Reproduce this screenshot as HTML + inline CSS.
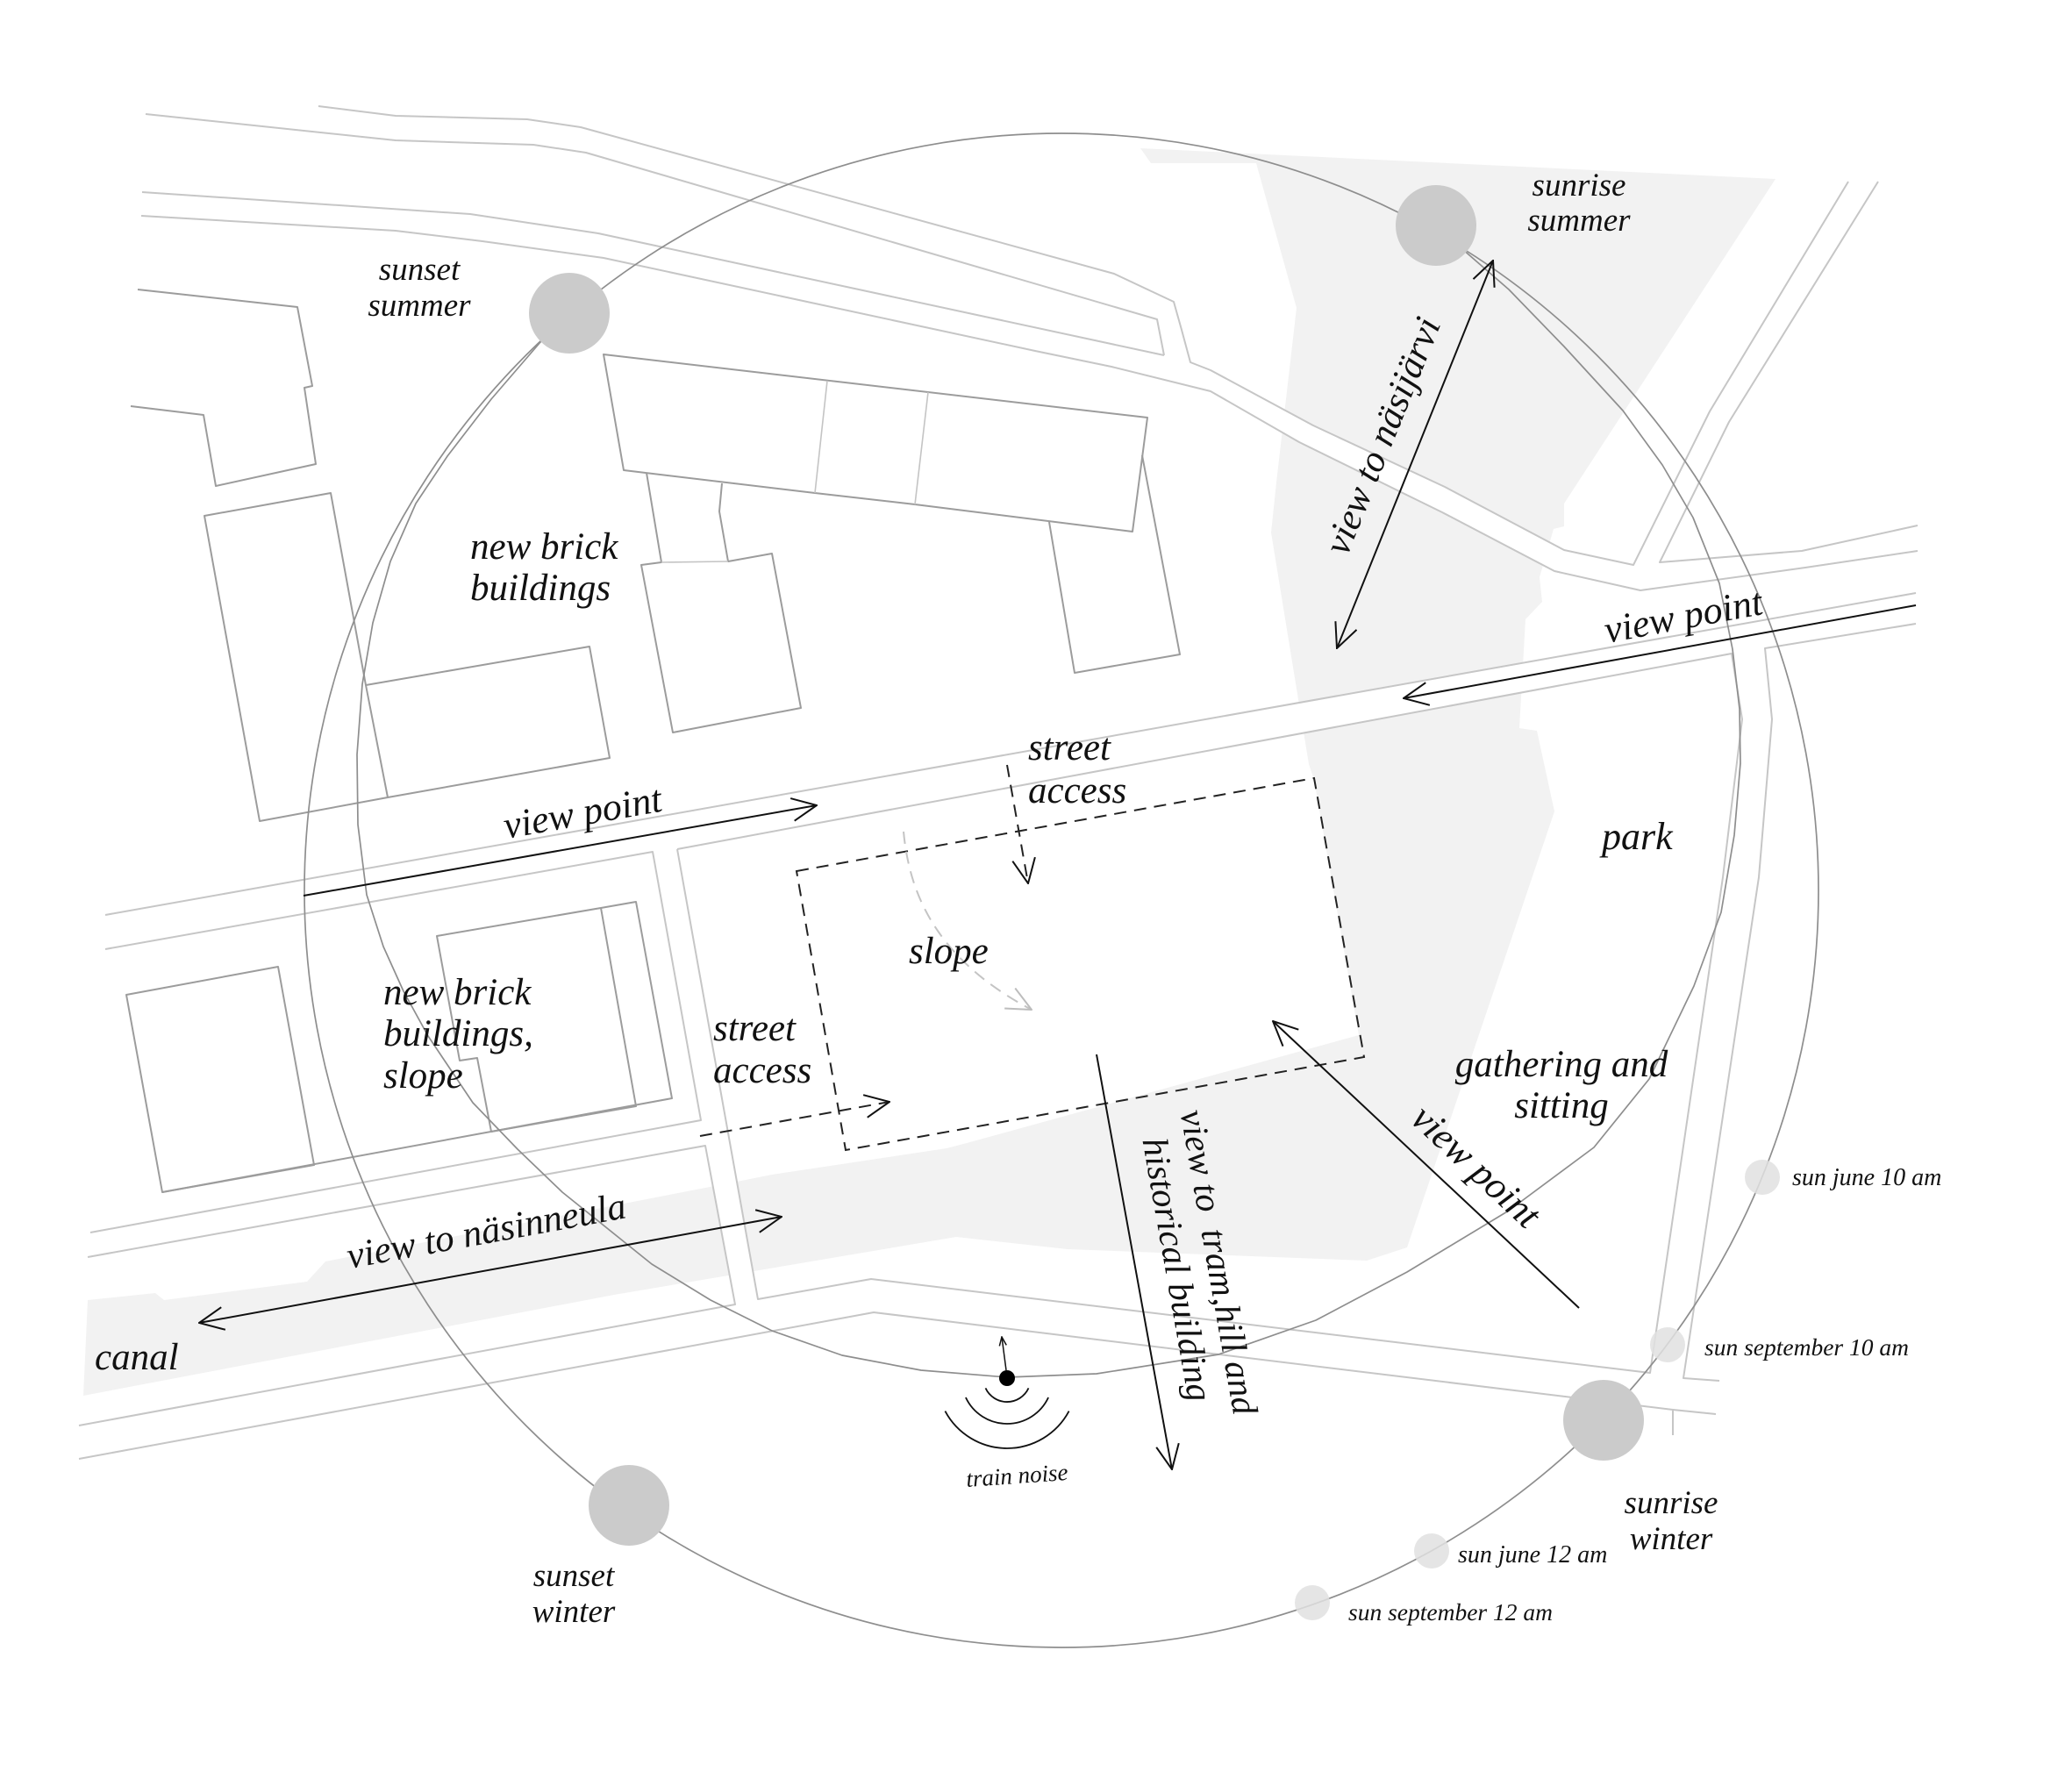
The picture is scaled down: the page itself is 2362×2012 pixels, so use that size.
<!DOCTYPE html>
<html>
<head>
<meta charset="utf-8">
<style>
html,body{margin:0;padding:0;background:#fff;width:2362px;height:2012px;overflow:hidden}
svg{display:block}
text{font-family:"Liberation Serif","DejaVu Serif",serif;font-style:italic;fill:#111}
</style>
</head>
<body>
<svg width="2362" height="2012" viewBox="0 0 2362 2012" xmlns="http://www.w3.org/2000/svg">
<defs>
<marker id="ah" viewBox="0 0 30 28" refX="29" refY="14" markerWidth="30" markerHeight="28" markerUnits="userSpaceOnUse" orient="auto-start-reverse">
<path d="M1,1 L29,14 L1,27" fill="none" stroke="#111" stroke-width="2"/>
</marker>
<marker id="ahl" viewBox="0 0 30 28" refX="29" refY="14" markerWidth="30" markerHeight="28" markerUnits="userSpaceOnUse" orient="auto">
<path d="M1,1 L29,14 L1,27" fill="none" stroke="#bdbdbd" stroke-width="2"/>
</marker>
<marker id="ahs" viewBox="0 0 12 10" refX="11" refY="5" markerWidth="12" markerHeight="10" markerUnits="userSpaceOnUse" orient="auto">
<path d="M1,1 L11,5 L1,9" fill="none" stroke="#111" stroke-width="1.5"/>
</marker>
</defs>

<rect width="2362" height="2012" fill="#fff"/>

<!-- park / canal gray -->
<polygon fill="#f2f2f2" points="1300,169 2024,204 1783,574 1783,600 1771,603 1755,658 1758,686 1739,706 1732,830 1752,833 1772,925 1604,1422 1558,1437 1217,1424 1090,1410 700,1476 95,1591 100,1482 177,1474 187,1482 350,1461 371,1438 830,1349 880,1339 1079,1309 1102,1303 1549,1180 1498,889 1492,871 1449,607 1455,550 1478,351 1432,186 1312,186"/>

<!-- white road fills -->
<polygon fill="#fff" points="363,121 451,132 601,136 662,145 1270,312 1338,344 1347,376 1357,413 1380,422 1497,485 1647,555 1783,627 1862,644 1949,469 2107,207 2141,207 1971,481 1892,641 2054,628 2186,599 2186,628 2058,647 1870,673 1772,651 1644,584 1481,504 1380,446 1267,418 1180,400 688,294 550,275 451,263 161,246 166,130"/>
<polygon fill="#fff" points="120,1043 2184,676 2184,711 2012,739 1974,745 772,968 744,971 120,1082"/>
<polygon fill="#fff" points="744,971 772,968 864,1481 838,1487"/>

<!-- road lines -->
<g fill="none" stroke="#c6c6c6" stroke-width="2" stroke-linejoin="round">
<polyline points="363,121 451,132 601,136 662,145 1270,312 1338,344 1347,376 1357,413 1380,422 1497,485 1647,555 1783,627 1862,644 1949,469 2107,207"/>
<polyline points="166,130 451,160 608,165 668,174 1319,364 1327,405"/>
<polyline points="162,219 536,244 682,266 1327,405"/>
<polyline points="161,246 451,263 550,275 688,294 1180,400 1267,418 1380,446 1481,504 1644,584 1772,651 1870,673 2058,647 2186,628"/>
<polyline points="2141,207 1971,481 1892,641 2054,628 2186,599"/>
<polyline points="120,1043 2184,676"/>
<polyline points="120,1082 744,971 799,1277 103,1405"/>
<polyline points="100,1433 804,1306 838,1487 90,1625"/>
<polyline points="772,968 1974,745 1986,820 1964,1000 1881,1565 993,1458 864,1481 772,968"/>
<polyline points="2184,711 2012,739 2020,820 2005,1000 1919,1571 1960,1574"/>
<polyline points="90,1663 996,1496 1907,1607 1907,1636"/>
<polyline points="1907,1607 1956,1612"/>
</g>

<!-- buildings -->
<g fill="none" stroke="#9c9c9c" stroke-width="2" stroke-linejoin="round">
<polyline points="157,330 339,350 356,440 347,442 360,529 246,554 232,473 149,463"/>
<polygon points="296,936 233,588 377,562 417,781 442,909"/>
<polyline points="417,781 672,737 695,864 442,909"/>
<polygon points="688,404 1308,476 1291,606 1043,575 929,562 711,536"/>
<polyline points="737,539 754,641 731,644 767,835 913,807 880,631 830,640 820,583 823,551"/>
<polyline points="1196,595 1225,767 1345,746 1302,519"/>
<polyline points="685,1035 725,1028 766,1252 185,1359"/>
<polygon points="144,1134 317,1102 358,1328 185,1359"/>
<polygon points="498,1067 685,1035 725,1261 560,1290 544,1206 524,1209"/>
</g>
<g fill="none" stroke="#c4c4c4" stroke-width="1.6">
<line x1="943" y1="434" x2="929" y2="562"/>
<line x1="1058" y1="447" x2="1043" y2="575"/>
<line x1="754" y1="641" x2="830" y2="640"/>
</g>

<!-- sun path circles -->
<g fill="none" stroke="#8e8e8e" stroke-width="1.7" stroke-linejoin="round">
<circle cx="1210" cy="1015" r="863"/>
<polyline points="649,357 616,390 560,455 510,520 474,574 445,640 425,710 413,780 407,860 408,940 418,1020 437,1079 460,1130 488,1181 539,1257 590,1310 641,1359 743,1441 810,1482 880,1517 960,1545 1050,1562 1148,1570 1250,1566 1389,1544 1500,1505 1604,1450 1720,1380 1817,1308 1880,1230 1931,1124 1962,1040 1977,952 1984,870 1983,808 1975,740 1960,665 1930,590 1895,530 1850,468 1783,395 1720,330 1674,290 1637,257"/>
</g>

<!-- suns -->
<g fill="#cbcbcb">
<circle cx="649" cy="357" r="46"/>
<circle cx="1637" cy="257" r="46"/>
<circle cx="717" cy="1716" r="46"/>
<circle cx="1828" cy="1619" r="46"/>
</g>
<g fill="#e0e0e0" opacity="0.85">
<circle cx="2009" cy="1342" r="20"/>
<circle cx="1901" cy="1533" r="20"/>
<circle cx="1632" cy="1768" r="20"/>
<circle cx="1496" cy="1827" r="20"/>
</g>

<!-- site dashed -->
<polygon points="908,993 1498,887 1555,1205 964,1311" fill="none" stroke="#222" stroke-width="2" stroke-dasharray="14,9"/>
<line x1="1148" y1="872" x2="1172" y2="1007" stroke="#222" stroke-width="2" stroke-dasharray="14,9" marker-end="url(#ah)"/>
<line x1="798" y1="1295" x2="1014" y2="1256" stroke="#222" stroke-width="2" stroke-dasharray="14,9" marker-end="url(#ah)"/>
<path d="M1030,948 C1036,1010 1060,1090 1176,1151" fill="none" stroke="#c4c4c4" stroke-width="2" stroke-dasharray="14,9" marker-end="url(#ahl)"/>

<!-- arrows -->
<g stroke="#111" stroke-width="2" fill="none">
<line x1="346" y1="1021" x2="931" y2="918" marker-end="url(#ah)"/>
<line x1="2184" y1="690" x2="1600" y2="796" marker-end="url(#ah)"/>
<line x1="1800" y1="1491" x2="1451" y2="1164" marker-end="url(#ah)"/>
<line x1="1250" y1="1202" x2="1336" y2="1675" marker-end="url(#ah)"/>
<line x1="1524" y1="739" x2="1702" y2="297" marker-start="url(#ah)" marker-end="url(#ah)"/>
<line x1="227" y1="1508" x2="891" y2="1387" marker-start="url(#ah)" marker-end="url(#ah)"/>
</g>

<!-- train noise -->
<g fill="none" stroke="#111" stroke-width="1.8">
<path d="M1172.5,1582.4 A27,27 0 0 1 1123.5,1582.4"/>
<path d="M1195.1,1593 A52,52 0 0 1 1100.9,1593"/>
<path d="M1218.6,1608.6 A80,80 0 0 1 1077.4,1608.6"/>
<line x1="1147" y1="1562" x2="1142" y2="1524" stroke-width="1.5" marker-end="url(#ahs)"/>
</g>
<circle cx="1148" cy="1571" r="9" fill="#000"/>

<!-- text -->
<g font-size="37" text-anchor="middle">
<text x="478" y="319">sunset</text>
<text x="478" y="360">summer</text>
<text x="1800" y="223">sunrise</text>
<text x="1800" y="263">summer</text>
<text x="1905" y="1725">sunrise</text>
<text x="1905" y="1766">winter</text>
<text x="654" y="1808">sunset</text>
<text x="654" y="1849">winter</text>
</g>
<g font-size="43">
<text x="536" y="637">new brick</text>
<text x="536" y="684">buildings</text>
<text x="1172" y="866">street</text>
<text x="1172" y="915">access</text>
<text x="813" y="1186">street</text>
<text x="813" y="1234">access</text>
<text x="1036" y="1098">slope</text>
<text x="1826" y="968" font-size="44">park</text>
<text x="1780" y="1227" text-anchor="middle">gathering and</text>
<text x="1780" y="1274" text-anchor="middle">sitting</text>
<text x="108" y="1561">canal</text>
<text x="437" y="1145">new brick</text>
<text x="437" y="1192">buildings,</text>
<text x="437" y="1240">slope</text>
</g>
<text font-size="44" transform="translate(577,956) rotate(-10)">view point</text>
<text font-size="44" transform="translate(1832,733) rotate(-10.5)">view point</text>
<text font-size="44" text-anchor="middle" transform="translate(1673,1340) rotate(43)">view point</text>
<text font-size="43" text-anchor="middle" transform="translate(1589,502) rotate(-68)">view to näsijärvi</text>
<text font-size="43" text-anchor="middle" transform="translate(557,1417) rotate(-10.4)">view to näsinneula</text>
<g font-size="41" text-anchor="middle" transform="translate(1376,1441) rotate(80)">
<text x="0" y="0" style="white-space:pre">view to  tram,hill and</text>
<text x="0" y="48">historical building</text>
</g>
<g font-size="28">
<text x="2043" y="1351">sun june 10 am</text>
<text x="1943" y="1545" font-size="27.5">sun september 10 am</text>
<text x="1662" y="1781">sun june 12 am</text>
<text x="1537" y="1847" font-size="27.5">sun september 12 am</text>
</g>
<text font-size="27" text-anchor="middle" transform="translate(1160,1691) rotate(-4)">train noise</text>
</svg>
</body>
</html>
